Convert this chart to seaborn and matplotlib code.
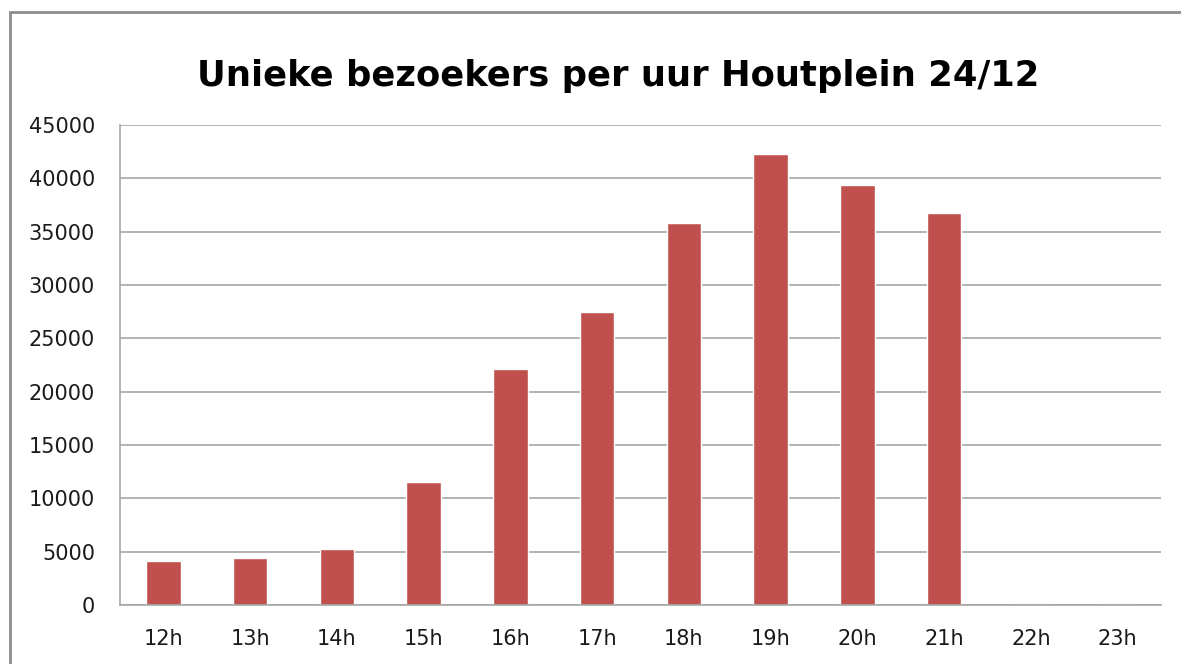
#!/usr/bin/env python3
"""Unique visitors per hour at Houtplein on 24/12, as an Excel-like bar chart."""

import matplotlib.pyplot as plt
import pandas as pd
import seaborn as sns
from matplotlib.patches import Rectangle

HOURS = ["12h", "13h", "14h", "15h", "16h", "17h", "18h", "19h", "20h", "21h", "22h", "23h"]
VISITORS = [4120, 4370, 5220, 11500, 22150, 27480, 35790, 42280, 39410, 36720, 0, 0]

TITLE = "Unieke bezoekers per uur Houtplein 24/12"
BAR_COLOUR = "#C0504D"
GRID_COLOUR = "#A6A6A6"


def main() -> None:
    sns.set_theme(style="white")
    plt.rcParams["font.family"] = ["DejaVu Sans"]

    frame = pd.DataFrame({"hour": HOURS, "visitors": VISITORS})

    fig = plt.figure(figsize=(11.81, 6.64), dpi=100)
    ax = fig.add_axes([120 / 1181, 1 - 605 / 664, 1041 / 1181, 480 / 664])

    sns.barplot(data=frame, x="hour", y="visitors", color=BAR_COLOUR,
                saturation=1, width=0.4, ax=ax)

    ax.set_ylim(0, 45000)
    ax.set_yticks(range(0, 45001, 5000))
    ax.yaxis.grid(True, color=GRID_COLOUR, linewidth=1.2)
    ax.set_axisbelow(True)
    ax.set_xlabel("")
    ax.set_ylabel("")
    for side in ("top", "right"):
        ax.spines[side].set_visible(False)
    for side in ("left", "bottom"):
        ax.spines[side].set_color(GRID_COLOUR)
        ax.spines[side].set_linewidth(1.2)
    ax.tick_params(axis="y", length=0, pad=18, labelsize=15, labelcolor="#1a1a1a")
    ax.tick_params(axis="x", length=0, pad=17, labelsize=15, labelcolor="#1a1a1a")

    fig.text(618 / 1181, 1 - 76 / 664, TITLE, ha="center", va="center",
             fontsize=25.5, fontweight="bold", color="black")

    # chart frame, cut off at the right and bottom like the screenshot
    fig.patches.append(Rectangle((10 / 1181, -0.1), 1.2, 1 - 12 / 664 + 0.1,
                                 transform=fig.transFigure, fill=False,
                                 edgecolor="#8C8C8C", linewidth=2))

    fig.savefig("out.png", dpi=100)


if __name__ == "__main__":
    main()
